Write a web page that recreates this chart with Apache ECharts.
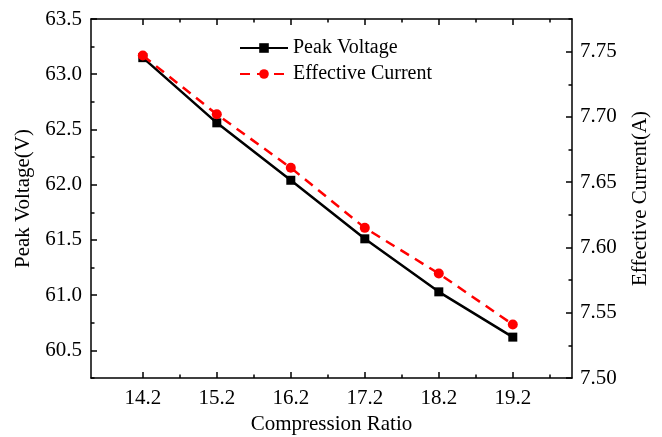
<!DOCTYPE html>
<html>
<head>
<meta charset="utf-8">
<script src="https://cdn.jsdelivr.net/npm/echarts@6/dist/echarts.min.js"></script>
<style>html,body{margin:0;padding:0;background:#fff}#c{width:662px;height:437px}</style>
</head>
<body>
<div id="c"></div>
<script>
const compressionRatio = [14.2, 15.2, 16.2, 17.2, 18.2, 19.2];
const peakVoltage = [63.15, 62.56, 62.04, 61.51, 61.03, 60.62];
const effectiveCurrent = [7.747, 7.702, 7.661, 7.615, 7.580, 7.541];
const xMinorTicks = [14.7, 15.7, 16.7, 17.7, 18.7, 19.7];
const leftTicks = [60.5, 61.0, 61.5, 62.0, 62.5, 63.0, 63.5];
const rightTicks = [7.50, 7.55, 7.60, 7.65, 7.70, 7.75];

const FONT = 'Liberation Serif';
const FS = 21;
const black = '#000';
const axisLine = {show: true, onZero: false, lineStyle: {color: black, width: 1.5}};

function xAxisCfg(pos, major) {
  return {
    type: 'value', position: pos, min: 13.5, max: 20,
    axisLine: major ? axisLine : {show: false},
    splitLine: {show: false},
    axisTick: {show: true, inside: true, length: major ? 6 : 3.5,
      customValues: major ? compressionRatio : xMinorTicks,
      lineStyle: {color: black, width: 1.5}},
    axisLabel: (major && pos === 'bottom') ? {show: true, customValues: compressionRatio,
      formatter: v => v.toFixed(1), color: black, fontFamily: FONT, fontSize: FS, margin: 10} : {show: false},
    name: (major && pos === 'bottom') ? 'Compression Ratio' : '',
    nameLocation: 'middle', nameGap: 34,
    nameTextStyle: {color: black, fontFamily: FONT, fontSize: FS}
  };
}

const chart = echarts.init(document.getElementById('c'), null, {renderer: 'canvas'});
chart.setOption({
  animation: false,
  backgroundColor: '#fff',
  grid: {left: 91, top: 19, right: 90, bottom: 59, containLabel: false, outerBoundsMode: 'none'},
  legend: {
    orient: 'vertical', left: 234, top: 33,
    itemWidth: 48, itemHeight: 12, itemGap: 6,
    textStyle: {color: black, fontFamily: FONT, fontSize: 20},
    data: ['Peak Voltage', 'Effective Current']
  },
  xAxis: [xAxisCfg('bottom', true), xAxisCfg('bottom', false), xAxisCfg('top', true), xAxisCfg('top', false)],
  yAxis: [
    {
      type: 'value', position: 'left', min: 60.25, max: 63.5,
      axisLine: axisLine, splitLine: {show: false},
      axisTick: {show: true, inside: true, length: 6, customValues: leftTicks, lineStyle: {color: black, width: 1.5}},
      axisLabel: {show: true, customValues: leftTicks, formatter: v => v.toFixed(1), color: black, fontFamily: FONT, fontSize: FS, margin: 9},
      name: 'Peak Voltage(V)', nameLocation: 'middle', nameGap: 54, nameRotate: 90,
      nameTextStyle: {color: black, fontFamily: FONT, fontSize: FS}
    },
    {
      type: 'value', position: 'left', min: 60.25, max: 63.5, interval: 0.25,
      axisLine: {show: false}, splitLine: {show: false},
      axisTick: {show: true, inside: true, length: 3.5, lineStyle: {color: black, width: 1.5}},
      axisLabel: {show: false}
    },
    {
      type: 'value', position: 'right', min: 7.5, max: 7.775,
      axisLine: axisLine, splitLine: {show: false},
      axisTick: {show: true, inside: true, length: 6, customValues: rightTicks, lineStyle: {color: black, width: 1.5}},
      axisLabel: {show: true, customValues: rightTicks, formatter: v => v.toFixed(2), color: black, fontFamily: FONT, fontSize: FS, margin: 8},
      name: 'Effective Current(A)', nameLocation: 'middle', nameGap: 58, nameRotate: 90,
      nameTextStyle: {color: black, fontFamily: FONT, fontSize: FS}
    },
    {
      type: 'value', position: 'right', min: 7.5, max: 7.775, interval: 0.025,
      axisLine: {show: false}, splitLine: {show: false},
      axisTick: {show: true, inside: true, length: 3.5, lineStyle: {color: black, width: 1.5}},
      axisLabel: {show: false}
    }
  ],
  series: [
    {
      name: 'Peak Voltage', type: 'line', xAxisIndex: 0, yAxisIndex: 0,
      data: compressionRatio.map((x, i) => [x, peakVoltage[i]]),
      symbol: 'rect', symbolSize: 9,
      lineStyle: {color: black, width: 2.5},
      itemStyle: {color: black}, z: 3
    },
    {
      name: 'Effective Current', type: 'line', xAxisIndex: 0, yAxisIndex: 2,
      data: compressionRatio.map((x, i) => [x, effectiveCurrent[i]]),
      symbol: 'circle', symbolSize: 10,
      lineStyle: {color: '#ff0000', width: 2.5, type: [10, 7]},
      itemStyle: {color: '#ff0000'}, z: 4
    }
  ]
});
</script>
</body>
</html>
